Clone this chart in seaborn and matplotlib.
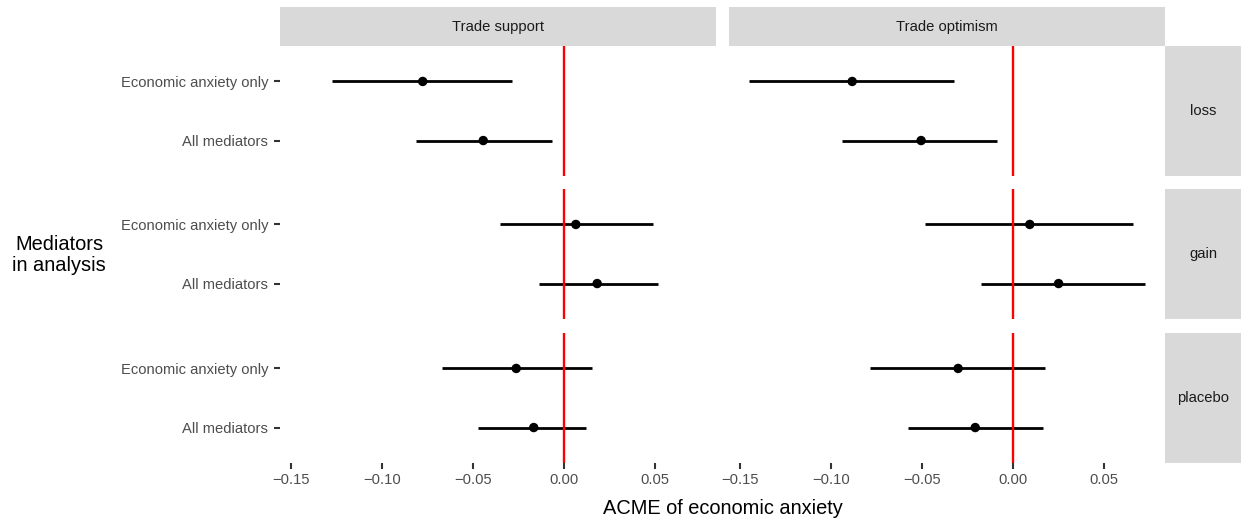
import matplotlib
matplotlib.use("Agg")
import matplotlib.pyplot as plt
from matplotlib.patches import Rectangle
import numpy as np
import pandas as pd
import seaborn as sns

# ---- data -----------------------------------------------------------------
outcomes = ["Trade support", "Trade optimism"]
conditions = ["loss", "gain", "placebo"]
mediators = ["Economic anxiety only", "All mediators"]

outcome_col = (["Trade support"] * 6) + (["Trade optimism"] * 6)
condition_col = ["loss", "loss", "gain", "gain", "placebo", "placebo"] * 2
mediator_col = ["Economic anxiety only", "All mediators"] * 6

acme = [-0.0775, -0.0443, 0.0065, 0.0182, -0.0262, -0.0166,
        -0.0882, -0.0504, 0.0092, 0.0250, -0.0301, -0.0207]
ci_low = [-0.1274, -0.0813, -0.0350, -0.0138, -0.0670, -0.0474,
          -0.1449, -0.0939, -0.0482, -0.0178, -0.0783, -0.0577]
ci_high = [-0.0284, -0.0067, 0.0489, 0.0513, 0.0156, 0.0122,
           -0.0326, -0.0087, 0.0656, 0.0725, 0.0178, 0.0166]

x_ticks = [-0.15, -0.10, -0.05, 0.00, 0.05]
x_tick_labels = ["\u22120.15", "\u22120.10", "\u22120.05", "0.00", "0.05"]

df = pd.DataFrame({
    "outcome": outcome_col,
    "condition": condition_col,
    "mediator": mediator_col,
    "acme": acme,
    "lo": ci_low,
    "hi": ci_high,
})
df["ypos"] = df["mediator"].map({m: i for i, m in enumerate(mediators)})

# ---- style ----------------------------------------------------------------
sns.set_theme(style="white")
plt.rcParams["font.family"] = ["Liberation Sans", "DejaVu Sans"]

W, H = 1241, 521
fig = plt.figure(figsize=(W / 100, H / 100), dpi=100)

col_x = [(280, 716), (729, 1165)]
row_y = [(46, 176), (189, 319), (333, 463)]

span = max(df["hi"]) - min(df["lo"])
xlim = (min(df["lo"]) - 0.05 * span, max(df["hi"]) + 0.05 * span)

strip_fill = "#D9D9D9"
strip_text = "#1A1A1A"
tick_text = "#4D4D4D"
tick_col = "#333333"


def px_rect(x0, x1, y0, y1):
    return [x0 / W, 1 - y1 / H, (x1 - x0) / W, (y1 - y0) / H]


for r, cond in enumerate(conditions):
    for c, outc in enumerate(outcomes):
        ax = fig.add_axes(px_rect(col_x[c][0], col_x[c][1], row_y[r][0], row_y[r][1]))
        sub = df[(df["outcome"] == outc) & (df["condition"] == cond)]

        ax.hlines(sub["ypos"], sub["lo"], sub["hi"], color="black",
                  linewidth=2.0, zorder=2)
        ax.axvline(0, color="#FF0000", linewidth=1.7, zorder=3)
        sns.scatterplot(data=sub, x="acme", y="ypos", ax=ax, color="black",
                        s=46, edgecolor="none", linewidth=0, zorder=4,
                        legend=False)

        ax.set_xlim(xlim)
        ax.set_ylim(1.6, -0.6)
        ax.set_xlabel("")
        ax.set_ylabel("")
        for sp in ax.spines.values():
            sp.set_visible(False)
        ax.set_facecolor("white")

        ax.set_yticks(range(len(mediators)))
        ax.set_xticks(x_ticks)
        if c == 0:
            ax.set_yticklabels(mediators)
            ax.tick_params(axis="y", left=True, length=4.0, width=1.5,
                           color=tick_col, pad=4.6, labelsize=10.6,
                           labelcolor=tick_text)
        else:
            ax.tick_params(axis="y", left=False, labelleft=False)
        if r == len(conditions) - 1:
            ax.set_xticklabels(x_tick_labels)
            ax.tick_params(axis="x", bottom=True, length=4.0, width=1.5,
                           color=tick_col, pad=3.0, labelsize=10.6,
                           labelcolor=tick_text)
        else:
            ax.tick_params(axis="x", bottom=False, labelbottom=False)

# column strips
for c, outc in enumerate(outcomes):
    x0, x1 = col_x[c]
    fig.patches.append(Rectangle((x0 / W, 1 - 46 / H), (x1 - x0) / W, 39 / H,
                                 transform=fig.transFigure, facecolor=strip_fill,
                                 edgecolor="none"))
    fig.text((x0 + x1) / 2 / W, 1 - 26.5 / H, outc, ha="center", va="center",
             fontsize=10.6, color=strip_text)

# row strips
for r, cond in enumerate(conditions):
    y0, y1 = row_y[r]
    fig.patches.append(Rectangle((1165 / W, 1 - y1 / H), (W - 1165) / W, (y1 - y0) / H,
                                 transform=fig.transFigure, facecolor=strip_fill,
                                 edgecolor="none"))
    fig.text((1165 + W) / 2 / W, 1 - (y0 + y1) / 2 / H, cond, ha="center",
             va="center", fontsize=10.6, color=strip_text)

# axis titles
fig.text(722.5 / W, 1 - 508 / H, "ACME of economic anxiety", ha="center",
         va="center", fontsize=14.4, color="black")
fig.text(59 / W, 1 - 255 / H, "Mediators\nin analysis", ha="center",
         va="center", fontsize=14.4, color="black", linespacing=1.12)

fig.savefig("out.png", dpi=100, facecolor="white")
